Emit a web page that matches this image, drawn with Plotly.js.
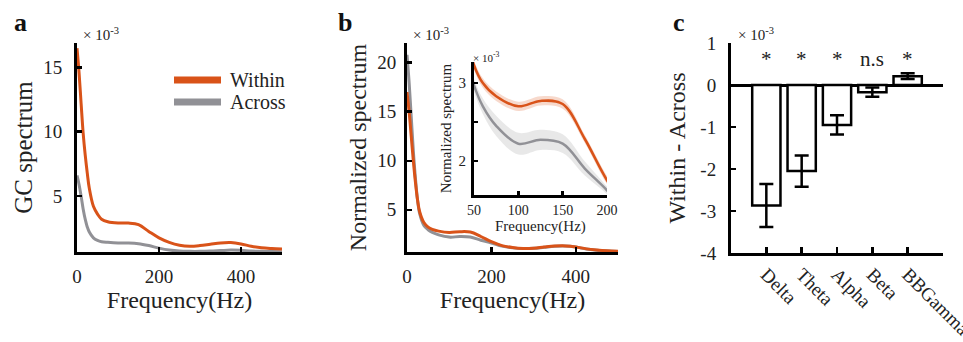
<!DOCTYPE html>
<html>
<head>
<meta charset="utf-8">
<script src="https://cdn.plot.ly/plotly-3.0.1.min.js"></script>
<style>html,body{margin:0;padding:0;background:#fff;}#chart{width:963px;height:342px;}</style>
</head>
<body>
<div id="chart"></div>
<script>
// ---------- DATA (values in units of 10^-3) ----------
const freq = [0,5,10,15,20,25,30,40,50,60,75,100,125,150,175,200,225,250,275,300,325,350,375,400,425,450,475,500];

// Panel a: GC spectrum
const gcWithin = [16.5,14.6,12.2,9.9,8.2,6.8,5.6,4.2,3.6,3.2,3.0,2.9,2.9,2.78,2.25,1.75,1.4,1.18,1.1,1.15,1.25,1.35,1.38,1.28,1.1,0.98,0.92,0.88];
const gcAcross = [6.6,5.9,5.0,4.0,3.2,2.6,2.2,1.75,1.55,1.45,1.4,1.35,1.35,1.3,1.15,0.95,0.8,0.72,0.7,0.7,0.72,0.76,0.8,0.78,0.72,0.7,0.68,0.66];

// Panel b: normalized spectrum (mean and s.e.m.)
const nsWithin = [17.0,15.0,12.5,10.0,7.8,6.0,4.8,3.7,3.23,3.0,2.83,2.70,2.77,2.73,2.28,1.75,1.35,1.15,1.05,1.08,1.2,1.3,1.32,1.22,1.02,0.9,0.82,0.78];
const nsAcross = [20.8,18.0,14.5,11.0,8.2,6.0,4.6,3.4,2.97,2.7,2.45,2.22,2.27,2.22,1.90,1.62,1.3,1.12,1.05,1.08,1.18,1.28,1.3,1.2,1.0,0.88,0.8,0.76];
const nsWithinErr = [0.3,0.25,0.2,0.15,0.12,0.1,0.08,0.07,0.06,0.06,0.06,0.06,0.06,0.06,0.05,0.05,0.04,0.04,0.03,0.03,0.03,0.03,0.03,0.03,0.03,0.03,0.03,0.03];
const nsAcrossErr = [0.5,0.4,0.3,0.25,0.2,0.15,0.12,0.1,0.08,0.1,0.13,0.14,0.13,0.12,0.09,0.05,0.05,0.05,0.04,0.04,0.04,0.04,0.04,0.04,0.04,0.04,0.04,0.04];

// Panel c: Within - Across per band
const bands = ['Delta','Theta','Alpha','Beta','BBGamma'];
const diffVals = [-2.87,-2.05,-0.95,-0.17,0.21];
const diffErr = [0.51,0.37,0.23,0.11,0.07];
const sigLabels = ['*','*','*','n.s','*'];

// Tick labels
const ticksA = [5,10,15];
const ticksB = [5,10,15,20];
const ticksFreq = [0,200,400];
const ticksInsetX = [50,100,150,200];
const ticksInsetY = [2,2.5,3];
const ticksInsetYText = ['2',' ','3'];
const ticksC = [-4,-3,-2,-1,0,1];
const ticksCText = ['-4','-3','-2','-1','0','1'];

// ---------- STYLE ----------
const ORANGE = 'rgb(217,83,25)';
const GRAY = 'rgb(145,145,150)';
const ORANGE_BAND = 'rgba(217,83,25,0.22)';
const GRAY_BAND = 'rgba(190,190,190,0.35)';
const FONT = 'Liberation Serif, Times New Roman, serif';
const TXT = '#222';

const upper = (m, e) => m.map((v, i) => v + e[i]);
const lower = (m, e) => m.map((v, i) => v - e[i]);

function bandTraces(xa, ya, m, e, color) {
  return [
    {x: freq, y: lower(m, e), xaxis: xa, yaxis: ya, mode: 'lines', line: {width: 0, shape: 'spline', color: color}, showlegend: false, hoverinfo: 'skip'},
    {x: freq, y: upper(m, e), xaxis: xa, yaxis: ya, mode: 'lines', line: {width: 0, shape: 'spline', color: color}, fill: 'tonexty', fillcolor: color, showlegend: false, hoverinfo: 'skip'}
  ];
}

const traces = [
  // panel a
  {x: freq, y: gcAcross, xaxis: 'x', yaxis: 'y', mode: 'lines', name: 'Across', line: {color: GRAY, width: 3, shape: 'spline'}, showlegend: false},
  {x: freq, y: gcWithin, xaxis: 'x', yaxis: 'y', mode: 'lines', name: 'Within', line: {color: ORANGE, width: 3, shape: 'spline'}, showlegend: false},
  // panel b
  ...bandTraces('x2', 'y2', nsAcross, nsAcrossErr, GRAY_BAND),
  {x: freq, y: nsAcross, xaxis: 'x2', yaxis: 'y2', mode: 'lines', name: 'Across', line: {color: GRAY, width: 3, shape: 'spline'}, showlegend: false},
  ...bandTraces('x2', 'y2', nsWithin, nsWithinErr, ORANGE_BAND),
  {x: freq, y: nsWithin, xaxis: 'x2', yaxis: 'y2', mode: 'lines', name: 'Within', line: {color: ORANGE, width: 3, shape: 'spline'}, showlegend: false},
  // inset
  ...bandTraces('x3', 'y3', nsAcross, nsAcrossErr, GRAY_BAND),
  {x: freq, y: nsAcross, xaxis: 'x3', yaxis: 'y3', mode: 'lines', name: 'Across', line: {color: GRAY, width: 2.5, shape: 'spline'}, showlegend: false},
  ...bandTraces('x3', 'y3', nsWithin, nsWithinErr, ORANGE_BAND),
  {x: freq, y: nsWithin, xaxis: 'x3', yaxis: 'y3', mode: 'lines', name: 'Within', line: {color: ORANGE, width: 2.5, shape: 'spline'}, showlegend: false},
  // panel c
  {x: bands, y: diffVals, xaxis: 'x4', yaxis: 'y4', type: 'bar', width: 0.8,
   marker: {color: 'white', line: {color: 'black', width: 2.5}},
   error_y: {type: 'data', array: diffErr, visible: true, color: 'black', thickness: 2.5, width: 7},
   showlegend: false}
];

function baseAxis(extra) {
  return Object.assign({
    showline: true, linecolor: 'black', linewidth: 3, mirror: false,
    ticks: 'inside', ticklen: 5, tickwidth: 2.5, tickcolor: 'black',
    showgrid: false, zeroline: false, fixedrange: true,
    tickfont: {family: FONT, size: 19, color: TXT}
  }, extra);
}

const yDom = [1 - 252/342, 1 - 43/342];

const layout = {
  width: 963, height: 342,
  margin: {l: 0, r: 0, t: 0, b: 0},
  paper_bgcolor: 'white', plot_bgcolor: 'rgba(0,0,0,0)',
  showlegend: false,
  font: {family: FONT, color: TXT},
  xaxis: baseAxis({domain: [77/963, 282/963], anchor: 'y', range: [0, 500], tickvals: ticksFreq, ticklabelstandoff: 5,
    title: {text: 'Frequency(Hz)', font: {family: FONT, size: 24, color: TXT}, standoff: 6}}),
  yaxis: baseAxis({domain: yDom, anchor: 'x', range: [0.65, 16.9], tickvals: ticksA, ticklabelstandoff: 8,
    title: {text: 'GC spectrum', font: {family: FONT, size: 25, color: TXT}, standoff: 4}}),
  xaxis2: baseAxis({domain: [407/963, 618/963], anchor: 'y2', range: [0, 500], tickvals: ticksFreq, ticklabelstandoff: 5,
    title: {text: 'Frequency(Hz)', font: {family: FONT, size: 24, color: TXT}, standoff: 6}}),
  yaxis2: baseAxis({domain: yDom, anchor: 'x2', range: [0.7, 22], tickvals: ticksB, ticklabelstandoff: 4,
    title: {text: 'Normalized spectrum', font: {family: FONT, size: 24, color: TXT}, standoff: 4}}),
  xaxis3: baseAxis({domain: [474/963, 607/963], anchor: 'y3', range: [50, 200], tickvals: ticksInsetX, ticklabelstandoff: 0,
    ticklen: 4, tickfont: {family: FONT, size: 14, color: TXT}}),
  yaxis3: baseAxis({domain: [1 - 195/342, 1 - 62/342], anchor: 'x3', range: [1.56, 3.27], tickvals: ticksInsetY, ticktext: ticksInsetYText, ticklabelstandoff: 2,
    ticklen: 4, tickfont: {family: FONT, size: 15, color: TXT},
    title: {text: 'Normalized spectrum', font: {family: FONT, size: 15, color: TXT}, standoff: 4}}),
  xaxis4: baseAxis({domain: [731/963, 943/963], anchor: 'y4', type: 'category', categoryarray: bands, range: [-1, 5],
    tickvals: bands, tickangle: 45, ticklabelstandoff: 0, ticklen: 6}),
  yaxis4: baseAxis({domain: [1 - 253/342, 1 - 43/342], anchor: 'x4', range: [-4, 1], tickvals: ticksC, ticktext: ticksCText, ticklabelstandoff: 8,
    zeroline: true, zerolinecolor: 'black', zerolinewidth: 3,
    title: {text: 'Within - Across', font: {family: FONT, size: 24, color: TXT}, standoff: 8}}),
  shapes: [
    {type: 'line', xref: 'paper', yref: 'paper', x0: 174/963, x1: 221/963, y0: 1 - 80/342, y1: 1 - 80/342, line: {color: ORANGE, width: 7}},
    {type: 'line', xref: 'paper', yref: 'paper', x0: 174/963, x1: 221/963, y0: 1 - 102/342, y1: 1 - 102/342, line: {color: GRAY, width: 7}}
  ],
  annotations: [
    {xref: 'paper', yref: 'paper', x: 228/963, y: 1 - 80/342, xanchor: 'left', yanchor: 'middle', text: 'Within', showarrow: false, font: {family: FONT, size: 20, color: TXT}},
    {xref: 'paper', yref: 'paper', x: 228/963, y: 1 - 102/342, xanchor: 'left', yanchor: 'middle', text: 'Across', showarrow: false, font: {family: FONT, size: 20, color: TXT}},
    {xref: 'paper', yref: 'paper', x: 540/963, y: 1 - 226/342, xanchor: 'center', yanchor: 'middle', text: 'Frequency(Hz)', showarrow: false, font: {family: FONT, size: 15, color: TXT}},
    {xref: 'paper', yref: 'paper', x: 12/963, y: 1 - 22/342, xanchor: 'left', yanchor: 'middle', text: '<b>a</b>', showarrow: false, font: {family: FONT, size: 26, color: '#111'}},
    {xref: 'paper', yref: 'paper', x: 336/963, y: 1 - 22/342, xanchor: 'left', yanchor: 'middle', text: '<b>b</b>', showarrow: false, font: {family: FONT, size: 26, color: '#111'}},
    {xref: 'paper', yref: 'paper', x: 671/963, y: 1 - 22/342, xanchor: 'left', yanchor: 'middle', text: '<b>c</b>', showarrow: false, font: {family: FONT, size: 26, color: '#111'}},
    {xref: 'paper', yref: 'paper', x: 81/963, y: 1 - 34/342, xanchor: 'left', yanchor: 'middle', text: '× 10<sup>-3</sup>', showarrow: false, font: {family: FONT, size: 15, color: TXT}},
    {xref: 'paper', yref: 'paper', x: 411/963, y: 1 - 34/342, xanchor: 'left', yanchor: 'middle', text: '× 10<sup>-3</sup>', showarrow: false, font: {family: FONT, size: 15, color: TXT}},
    {xref: 'paper', yref: 'paper', x: 736/963, y: 1 - 34/342, xanchor: 'left', yanchor: 'middle', text: '× 10<sup>-3</sup>', showarrow: false, font: {family: FONT, size: 15, color: TXT}},
    {xref: 'paper', yref: 'paper', x: 471/963, y: 1 - 57/342, xanchor: 'left', yanchor: 'middle', text: '× 10<sup>-3</sup>', showarrow: false, font: {family: FONT, size: 11, color: TXT}}
  ].concat(bands.map((b, i) => ({
    xref: 'x4', yref: 'y4', x: b, y: 0.62, text: sigLabels[i], showarrow: false,
    xanchor: 'center', yanchor: 'middle', font: {family: FONT, size: 21, color: TXT}
  })))
};

Plotly.newPlot('chart', traces, layout, {displayModeBar: false, staticPlot: true});
</script>
</body>
</html>
